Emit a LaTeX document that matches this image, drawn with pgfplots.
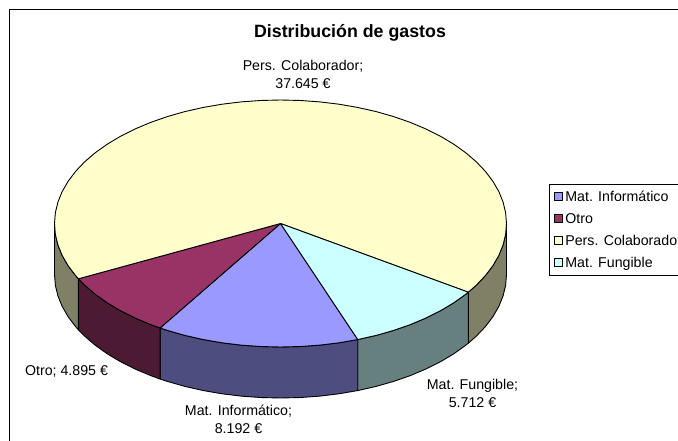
\documentclass[border=0pt]{standalone}
\usepackage{fontspec}
\setmainfont{Liberation Sans}
\usepackage{pgfplots}
\pgfplotsset{compat=1.18}
\definecolor{cInf}{HTML}{9999FF}
\definecolor{cOtro}{HTML}{993366}
\definecolor{cPers}{HTML}{FFFFCC}
\definecolor{cFung}{HTML}{CCFFFF}
\definecolor{sInf}{HTML}{4D4D80}
\definecolor{sOtro}{HTML}{4D1A33}
\definecolor{sPers}{HTML}{808066}
\definecolor{sFung}{HTML}{668080}
\newcommand{\lblfont}{\fontsize{14.2}{18}\selectfont}
\pgfplotsset{
  wedge/.style={draw=black, line width=0.9pt, line join=round},
}
\begin{document}
\begin{tikzpicture}
\useasboundingbox (0,0) rectangle (678pt,441pt);
\begin{axis}[
  scale only axis, width=678pt, height=441pt,
  xmin=0, xmax=678, ymin=0, ymax=441, y dir=reverse,
  axis lines=none, clip=false,
  legend style={at={(0.8090,0.5839)}, anchor=north west, draw=black, line width=0.9pt,
    font=\lblfont, fill=white, inner xsep=5.5pt, inner ysep=5pt,
    row sep=6.2pt, /tikz/every even column/.append style={column sep=1.5pt}},
  legend cell align=left,
  legend image code/.code={\draw[#1] (0pt,-4pt) rectangle (8pt,4pt);},
]
% outer frame, runs off the right and bottom of the image
\addplot[forget plot, black, line width=0.9pt] coordinates {(678,9) (9,9) (9,441)};

% sides of the disc
\addplot[forget plot, wedge, fill=sPers] coordinates {
  (506.5,223.5)(505.64,234.26)(503.07,244.95)(498.80,255.46)(492.87,265.74)(485.33,275.69)(476.22,285.25)(468.31,292.20)
  (468.31,343.20)(476.22,336.25)(485.33,326.69)(492.87,316.74)(498.80,306.46)(503.07,295.95)(505.64,285.26)(506.5,274.5)} --cycle;
\addplot[forget plot, wedge, fill=sFung] coordinates {
  (468.31,292.20)(465.64,294.34)(453.62,302.89)(440.31,310.83)(425.77,318.10)(410.13,324.67)(393.50,330.45)(376.01,335.43)(357.79,339.55)
  (357.79,390.55)(376.01,386.43)(393.50,381.45)(410.13,375.67)(425.77,369.10)(440.31,361.83)(453.62,353.89)(465.64,345.34)(468.31,343.20)} --cycle;
\addplot[forget plot, wedge, fill=sInf] coordinates {
  (357.79,339.55)(338.99,342.79)(319.73,345.12)(300.21,346.53)(280.5,347)(260.79,346.53)(241.27,345.12)(222.01,342.79)(203.21,339.55)(184.99,335.43)(167.5,330.45)(160.06,328.01)
  (160.06,379.01)(167.5,381.45)(184.99,386.43)(203.21,390.55)(222.01,393.79)(241.27,396.12)(260.79,397.53)(280.5,398)(300.21,397.53)(319.73,396.12)(338.99,393.79)(357.79,390.55)} --cycle;
\addplot[forget plot, wedge, fill=sOtro] coordinates {
  (160.06,328.01)(150.87,324.67)(135.23,318.10)(120.69,310.83)(107.38,302.89)(95.36,294.34)(84.78,285.25)(78.41,278.80)
  (78.41,329.80)(84.78,336.25)(95.36,345.34)(107.38,353.89)(120.69,361.83)(135.23,369.10)(150.87,375.67)(160.06,379.01)} --cycle;
\addplot[forget plot, wedge, fill=sPers] coordinates {
  (78.41,278.80)(75.67,275.69)(68.13,265.74)(62.20,255.46)(57.93,244.95)(55.36,234.26)(54.5,223.5)
  (54.5,274.5)(55.36,285.26)(57.93,295.95)(62.2,306.46)(68.13,316.74)(75.67,326.69)(78.41,329.80)} --cycle;

% top faces, in legend order
\addplot[wedge, fill=cInf] coordinates {
  (280.5,223.5)(357.79,339.55)(338.99,342.79)(319.73,345.12)(300.21,346.53)(280.5,347)(260.79,346.53)(241.27,345.12)(222.01,342.79)(203.21,339.55)(184.99,335.43)(167.5,330.45)(160.06,328.01)} --cycle;
\addlegendentry{Mat. Informático}
\addplot[wedge, fill=cOtro] coordinates {
  (280.5,223.5)(160.06,328.01)(150.87,324.67)(135.23,318.10)(120.69,310.83)(107.38,302.89)(95.36,294.34)(84.78,285.25)(78.41,278.80)} --cycle;
\addlegendentry{Otro}
\addplot[wedge, fill=cPers] coordinates {
  (280.5,223.5)(78.41,278.80)(75.67,275.69)(68.13,265.74)(62.20,255.46)(57.93,244.95)(55.36,234.26)(54.5,223.5)
  (55.36,212.74)(57.93,202.05)(62.20,191.54)(68.13,181.26)(75.67,171.31)(84.78,161.75)(95.36,152.66)(107.38,144.11)(120.69,136.17)(135.23,128.90)(150.87,122.33)(167.50,116.55)(184.99,111.57)(203.21,107.45)(222.01,104.21)(241.27,101.88)(260.79,100.47)(280.50,100.00)
  (300.21,100.47)(319.73,101.88)(338.99,104.21)(357.79,107.45)(376.01,111.57)(393.50,116.55)(410.13,122.33)(425.77,128.90)(440.31,136.17)(453.62,144.11)(465.64,152.66)(476.22,161.75)(485.33,171.31)(492.87,181.26)(498.80,191.54)(503.07,202.05)(505.64,212.74)(506.5,223.5)
  (505.64,234.26)(503.07,244.95)(498.80,255.46)(492.87,265.74)(485.33,275.69)(476.22,285.25)(468.31,292.20)} --cycle;
\addlegendentry{Pers. Colaborador}
\addplot[wedge, fill=cFung] coordinates {
  (280.5,223.5)(468.31,292.20)(465.64,294.34)(453.62,302.89)(440.31,310.83)(425.77,318.10)(410.13,324.67)(393.50,330.45)(376.01,335.43)(357.79,339.55)} --cycle;
\addlegendentry{Mat. Fungible}

% title and data labels
\node[font=\fontsize{17.8}{20}\selectfont\bfseries] at (axis cs:350,33) {Distribución de gastos};
\node[font=\lblfont, align=center] at (axis cs:303,74) {Pers. Colaborador;\\37.645 €};
\node[font=\lblfont] at (axis cs:66.5,371) {Otro; 4.895 €};
\node[font=\lblfont, align=center] at (axis cs:238.5,419.5) {Mat. Informático;\\8.192 €};
\node[font=\lblfont, align=center] at (axis cs:472.5,393) {Mat. Fungible;\\5.712 €};
\end{axis}
\end{tikzpicture}
\end{document}
